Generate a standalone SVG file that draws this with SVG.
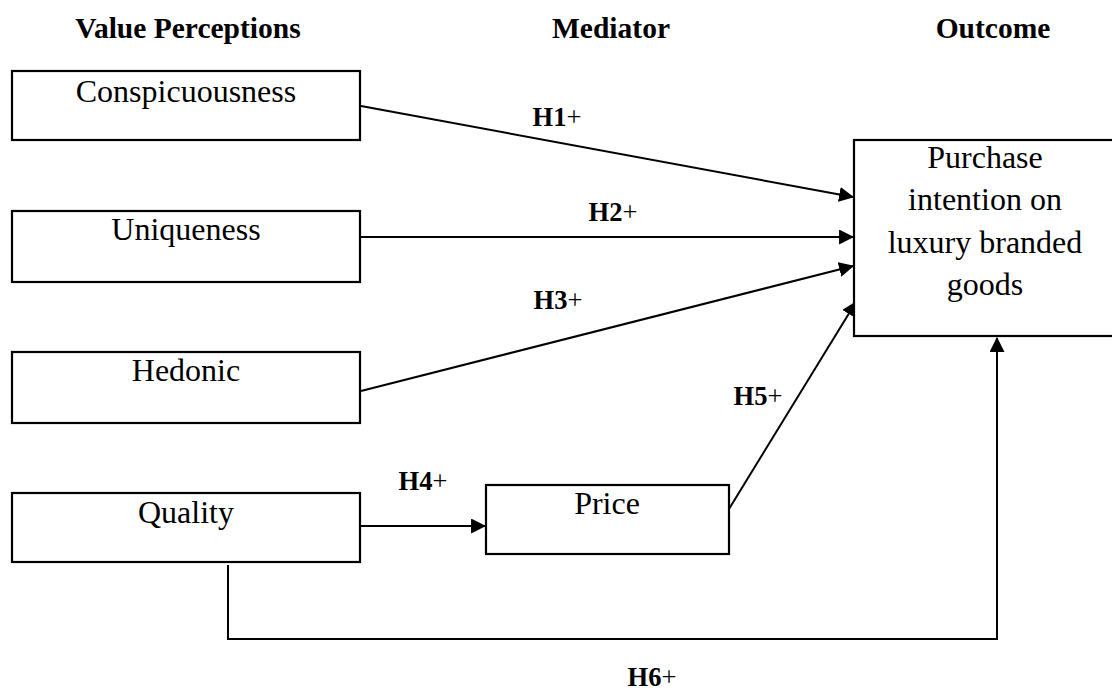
<svg xmlns="http://www.w3.org/2000/svg" width="1112" height="693" viewBox="0 0 1112 693">
  <style>
    .box { fill: #fff; stroke: #000; stroke-width: 2.2; }
    .nt { font-family: "Liberation Serif", "Times New Roman", serif; font-size: 32px; fill: #000; text-anchor: middle; }
    .hd { font-family: "Liberation Serif", "Times New Roman", serif; font-size: 29.5px; font-weight: bold; fill: #000; text-anchor: middle; }
    .lb { font-family: "Liberation Serif", "Times New Roman", serif; font-size: 26.5px; fill: #000; text-anchor: middle; }
    .b { font-weight: bold; }
    .cn { fill: none; stroke: #000; stroke-width: 2; }
  </style>
  <defs>
    <marker id="arr" viewBox="0 0 14 14" refX="13" refY="7" markerWidth="15" markerHeight="15" markerUnits="userSpaceOnUse" orient="auto">
      <path d="M0,0 L14,7 L0,14 Z" fill="#000"/>
    </marker>
  </defs>
  <rect width="1112" height="693" fill="#fff"/>

  <g id="headers">
    <text class="hd" x="188" y="38">Value Perceptions</text>
    <text class="hd" x="611" y="38">Mediator</text>
    <text class="hd" x="993" y="38">Outcome</text>
  </g>

  <g id="connectors">
    <line class="cn" x1="361" y1="106" x2="853" y2="197" marker-end="url(#arr)"/>
    <line class="cn" x1="361" y1="237" x2="853" y2="237" marker-end="url(#arr)"/>
    <line class="cn" x1="361" y1="391" x2="853" y2="266" marker-end="url(#arr)"/>
    <line class="cn" x1="361" y1="526" x2="485" y2="526" marker-end="url(#arr)"/>
    <line class="cn" x1="729" y1="509" x2="856" y2="302" marker-end="url(#arr)"/>
    <polyline class="cn" points="228,565 228,639 997,639 997,338" marker-end="url(#arr)"/>
  </g>

  <g id="labels">
    <text class="lb" x="557" y="126"><tspan class="b">H1</tspan>+</text>
    <text class="lb" x="613" y="221"><tspan class="b">H2</tspan>+</text>
    <text class="lb" x="558" y="309"><tspan class="b">H3</tspan>+</text>
    <text class="lb" x="423" y="490"><tspan class="b">H4</tspan>+</text>
    <text class="lb" x="758" y="405"><tspan class="b">H5</tspan>+</text>
    <text class="lb" x="652" y="686"><tspan class="b">H6</tspan>+</text>
  </g>

  <g id="node-conspicuousness">
    <rect class="box" x="12" y="71" width="348" height="69"/>
    <text class="nt" x="186" y="102">Conspicuousness</text>
  </g>
  <g id="node-uniqueness">
    <rect class="box" x="12" y="211" width="348" height="71"/>
    <text class="nt" x="186" y="240">Uniqueness</text>
  </g>
  <g id="node-hedonic">
    <rect class="box" x="12" y="352" width="348" height="71"/>
    <text class="nt" x="186" y="381">Hedonic</text>
  </g>
  <g id="node-quality">
    <rect class="box" x="12" y="493" width="348" height="69"/>
    <text class="nt" x="186" y="523">Quality</text>
  </g>
  <g id="node-price">
    <rect class="box" x="486" y="485" width="243" height="69"/>
    <text class="nt" x="607" y="514">Price</text>
  </g>
  <g id="node-purchase">
    <rect class="box" x="854" y="140" width="262" height="196"/>
    <text class="nt" x="985" y="168">Purchase</text>
    <text class="nt" x="985" y="210">intention on</text>
    <text class="nt" x="985" y="253">luxury branded</text>
    <text class="nt" x="985" y="295">goods</text>
  </g>
</svg>
